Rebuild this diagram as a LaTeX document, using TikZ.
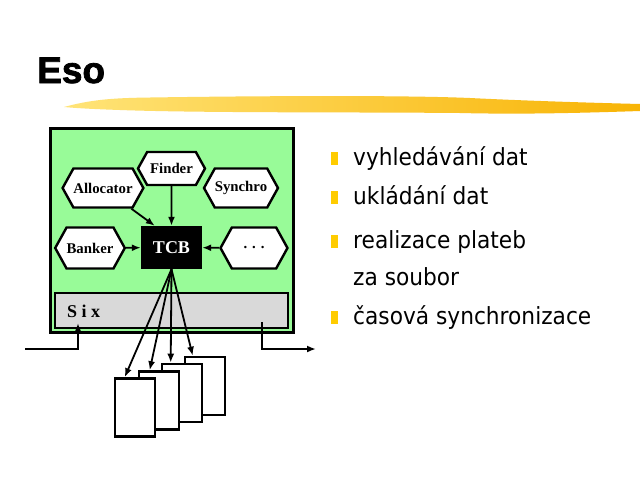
\documentclass[tikz,border=0pt]{standalone}
\usepackage{fontspec}
\setmainfont{Liberation Serif}
\newfontfamily\titlefont[BoldFeatures={FakeBold=2}]{Liberation Sans}
\newfontfamily\bodyfont[FakeStretch=0.92]{DejaVu Sans}
\usetikzlibrary{arrows.meta,shapes.symbols}
\definecolor{palegr}{RGB}{152,251,152}
\definecolor{sixgray}{RGB}{217,217,217}
\definecolor{bulletyel}{RGB}{255,204,0}
\definecolor{brushL}{RGB}{255,228,120}
\definecolor{brushM}{RGB}{250,208,50}
\definecolor{brushR}{RGB}{248,180,5}
\begin{document}
\begin{tikzpicture}[x=1pt,y=-1pt,
  hexa/.style={signal, signal to=west and east, draw, fill=white, line width=2.4pt,
    inner sep=0pt, minimum width=67pt, minimum height=39pt, signal pointer angle=122,
    font=\fontsize{14.8}{16}\selectfont\bfseries},
  arr/.style={-{Latex[length=9pt,width=7pt]}, line width=1.8pt},
  docbox/.style={draw, fill=white, line width=2.6pt, minimum width=40pt,
    minimum height=58pt, inner sep=0pt},
  bul/.style={fill=bulletyel, draw=none, minimum width=7pt, minimum height=13pt, inner sep=0pt},
  item/.style={anchor=base west, inner sep=0pt, font=\bodyfont\fontsize{23.6}{27}\selectfont}]
\useasboundingbox (0,0) rectangle (640,480);
\fill[white] (0,0) rectangle (640,480);
% title
\node[anchor=base west, inner sep=0pt, font=\titlefont\bfseries\fontsize{37}{40}\selectfont] (title) at (37,83) {Eso};
% brush stroke
\shade[left color=brushL, middle color=brushM, right color=brushR]
  (64,107) .. controls (90,100) and (110,98) .. (150,97.5)
  .. controls (250,96) and (400,95) .. (470,98)
  .. controls (530,101) and (600,103) .. (640,104)
  -- (640,111)
  .. controls (580,113) and (520,114.5) .. (460,113)
  .. controls (350,112) and (200,113) .. (120,110)
  .. controls (90,109) and (75,108) .. (64,107) -- cycle;
% frame
\node[draw, fill=palegr, line width=3pt, inner sep=0pt, minimum width=243pt, minimum height=204pt] (frame) at (171.5,230) {};
\node[draw, fill=sixgray, line width=2.5pt, inner sep=0pt, minimum width=233pt, minimum height=35pt] (six) at (171.5,310.5) {};
\node[anchor=west, inner sep=0pt, font=\fontsize{18}{20}\selectfont\bfseries] (sixlbl) at (67,311) {S i x};
% hexagons
\node[hexa, minimum height=33pt] (finder) at (171.5,168.5) {Finder};
\node[hexa] (alloc) at (103,188) {Allocator};
\node[hexa] (synchro) at (241,188) {Synchro};
\node[hexa, minimum height=41pt] (banker) at (90,248) {Banker};
\node[hexa, minimum height=41pt] (dots) at (254,248) {. . .};
\node[fill=black, text=white, inner sep=0pt, minimum width=61pt, minimum height=43pt, font=\fontsize{18}{20}\selectfont\bfseries] (tcb) at (171.5,247.5) {TCB};
\coordinate (tcbin) at ([xshift=14pt]tcb.north west);
\draw[arr] (alloc) -- (tcbin);
\draw[arr] (finder) -- (tcb);
\draw[arr] (banker) -- (tcb);
\draw[arr] (dots) -- (tcb);
% documents
\node[docbox] (d4) at (205,386) {};
\node[docbox] (d3) at (182,393) {};
\node[docbox] (d2) at (159,400.5) {};
\node[docbox] (d1) at (135,407.5) {};
\draw[arr] (tcb.south) -- ([xshift=11pt]d1.north west);
\draw[arr] (tcb.south) -- ([xshift=12pt]d2.north west);
\draw[arr] (tcb.south) -- ([xshift=10pt]d3.north west);
\draw[arr] (tcb.south) -- ([xshift=9pt]d4.north west);
% in / out
\coordinate (inL) at (25,349);
\coordinate (sixin) at (78,323);
\coordinate (sixout) at (262,322);
\coordinate (outR) at (316,349);
\draw[arr] (inL) -| (sixin);
\draw[arr] (sixout) |- (outR);
% bullets
\node[bul] (b1) at (334.5,158) {};
\node[bul] (b2) at (334.5,197.5) {};
\node[bul] (b3) at (334.5,241) {};
\node[bul] (b4) at (334.5,317) {};
\node[item] (t1) at (353,165) {vyhledávání dat};
\node[item] (t2) at (353,204.5) {ukládání dat};
\node[item] (t3) at (353,248) {realizace plateb};
\node[item] (t3b) at (353,285) {za soubor};
\node[item] (t4) at (353,324.5) {časová synchronizace};
\end{tikzpicture}
\end{document}
